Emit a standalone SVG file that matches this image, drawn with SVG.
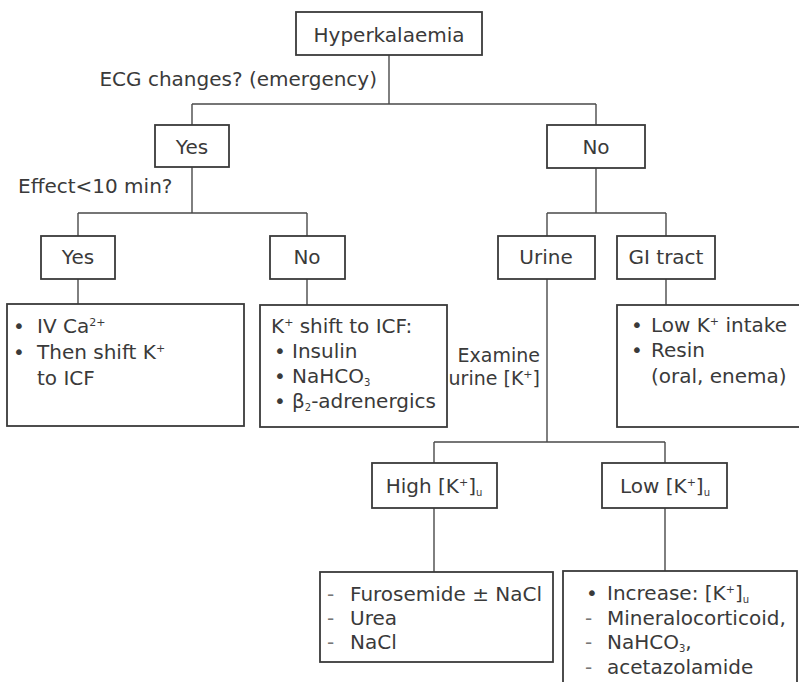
<svg xmlns="http://www.w3.org/2000/svg" width="799" height="682" viewBox="0 0 799 682">
  <style>
    .box { fill: #ffffff; stroke: #3a3a3a; stroke-width: 1.8; }
    .wire { fill: none; stroke: #4a4a4a; stroke-width: 1.4; }
    text { font-family: "DejaVu Sans", "Liberation Sans", sans-serif; font-size: 20px; fill: #3a3a3a; }
    .c { text-anchor: middle; }
    .r { text-anchor: end; }
    .s { font-size: 19px; }
    .sup { font-size: 11px; }
    .sub { font-size: 10px; }
    .dash { fill: #777777; }
  </style>

  <rect width="799" height="682" fill="#ffffff"/>

  <!-- connectors -->
  <g id="connectors">
    <path class="wire" d="M389 55 V104 M192 104 H596 M192 104 V125 M596 104 V125"/>
    <path class="wire" d="M192 167 V213 M78 213 H307 M78 213 V236 M307 213 V236"/>
    <path class="wire" d="M596 168 V213 M547 213 H666 M547 213 V236 M666 213 V236"/>
    <path class="wire" d="M78 279 V304 M307 279 V305 M666 279 V305"/>
    <path class="wire" d="M547 279 V442 M434 442 H665 M434 442 V463 M665 442 V463"/>
    <path class="wire" d="M434 508 V572 M665 508 V571"/>
  </g>

  <!-- labels on branches -->
  <g id="branch-labels">
    <text x="377" y="86" class="r">ECG changes? (emergency)</text>
    <text x="18" y="193">Effect&lt;10 min?</text>
    <text x="540" y="362" class="r s">Examine</text>
    <text x="540" y="385" class="r s">urine [K<tspan class="sup" dy="-7">+</tspan><tspan dy="7">]</tspan></text>
  </g>

  <g id="hyperkalaemia">
    <rect class="box" x="296" y="12" width="186" height="43"/>
    <text x="389" y="42" class="c">Hyperkalaemia</text>
  </g>

  <g id="ecg-yes">
    <rect class="box" x="155" y="125" width="74" height="42"/>
    <text x="192" y="154" class="c">Yes</text>
  </g>

  <g id="ecg-no">
    <rect class="box" x="547" y="125" width="98" height="43"/>
    <text x="596" y="154" class="c">No</text>
  </g>

  <g id="fast-yes">
    <rect class="box" x="41" y="236" width="74" height="43"/>
    <text x="78" y="264" class="c">Yes</text>
  </g>

  <g id="fast-no">
    <rect class="box" x="270" y="236" width="75" height="43"/>
    <text x="307" y="264" class="c">No</text>
  </g>

  <g id="urine">
    <rect class="box" x="498" y="236" width="97" height="43"/>
    <text x="546" y="264" class="c">Urine</text>
  </g>

  <g id="gi-tract">
    <rect class="box" x="617" y="236" width="98" height="43"/>
    <text x="666" y="264" class="c">GI tract</text>
  </g>

  <g id="calcium">
    <rect class="box" x="7" y="304" width="237" height="122"/>
    <text x="13" y="333">•</text>
    <text x="37" y="333">IV Ca<tspan class="sup" dy="-7">2+</tspan></text>
    <text x="13" y="359">•</text>
    <text x="37" y="359">Then shift K<tspan class="sup" dy="-7">+</tspan></text>
    <text x="37" y="385">to ICF</text>
  </g>

  <g id="shift-icf">
    <rect class="box" x="260" y="305" width="187" height="122"/>
    <text x="271" y="333">K<tspan class="sup" dy="-7">+</tspan><tspan dy="7"> shift to ICF:</tspan></text>
    <text x="274" y="358">•</text>
    <text x="292" y="358">Insulin</text>
    <text x="274" y="383">•</text>
    <text x="292" y="383">NaHCO<tspan class="sub" dy="3">3</tspan></text>
    <text x="274" y="408">•</text>
    <text x="292" y="408">β<tspan class="sub" dy="3">2</tspan><tspan dy="-3">-adrenergics</tspan></text>
  </g>

  <g id="gi-treatment">
    <rect class="box" x="617" y="305" width="185" height="122"/>
    <text x="631" y="332">•</text>
    <text x="651" y="332">Low K<tspan class="sup" dy="-7">+</tspan><tspan dy="7"> intake</tspan></text>
    <text x="631" y="357">•</text>
    <text x="651" y="357">Resin</text>
    <text x="651" y="383">(oral, enema)</text>
  </g>

  <g id="high-urine-k">
    <rect class="box" x="372" y="463" width="125" height="45"/>
    <text x="434" y="493" class="c">High [K<tspan class="sup" dy="-7">+</tspan><tspan dy="7">]</tspan><tspan class="sub" dy="3">u</tspan></text>
  </g>

  <g id="low-urine-k">
    <rect class="box" x="602" y="463" width="125" height="45"/>
    <text x="665" y="493" class="c">Low [K<tspan class="sup" dy="-7">+</tspan><tspan dy="7">]</tspan><tspan class="sub" dy="3">u</tspan></text>
  </g>

  <g id="high-treatment">
    <rect class="box" x="320" y="572" width="233" height="90"/>
    <text x="327" y="601" class="dash">-</text>
    <text x="350" y="601">Furosemide ± NaCl</text>
    <text x="327" y="625" class="dash">-</text>
    <text x="350" y="625">Urea</text>
    <text x="327" y="649" class="dash">-</text>
    <text x="350" y="649">NaCl</text>
  </g>

  <g id="low-treatment">
    <rect class="box" x="563" y="571" width="234" height="120"/>
    <text x="586" y="600">•</text>
    <text x="607" y="600">Increase: [K<tspan class="sup" dy="-7">+</tspan><tspan dy="7">]</tspan><tspan class="sub" dy="3">u</tspan></text>
    <text x="585" y="625" class="dash">-</text>
    <text x="607" y="625">Mineralocorticoid,</text>
    <text x="585" y="649" class="dash">-</text>
    <text x="607" y="649">NaHCO<tspan class="sub" dy="3">3</tspan><tspan dy="-3">,</tspan></text>
    <text x="585" y="674" class="dash">-</text>
    <text x="607" y="674">acetazolamide</text>
  </g>
</svg>
